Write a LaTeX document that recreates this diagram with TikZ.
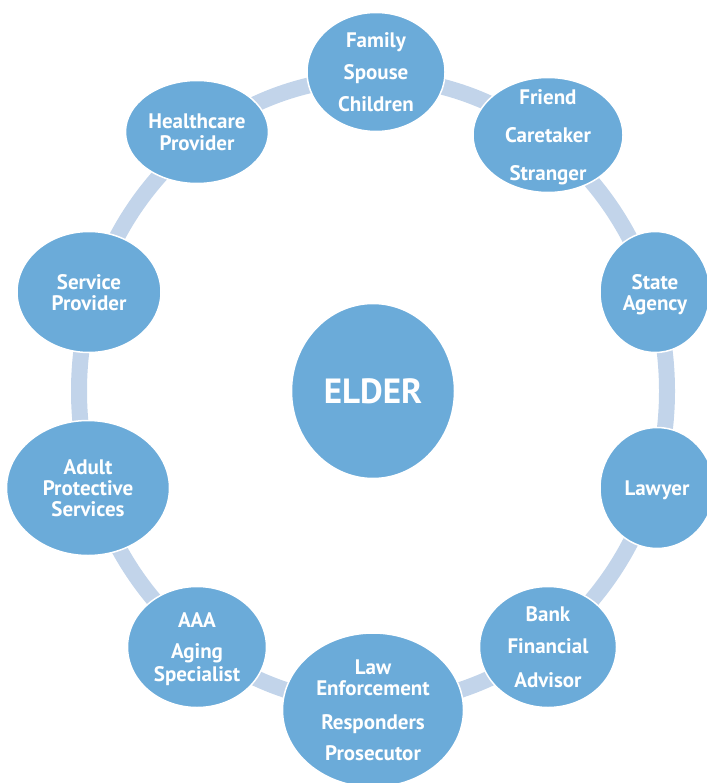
\documentclass[tikz,border=0pt]{standalone}
\usepackage{fontspec}
\setmainfont{PT Sans}
\usetikzlibrary{shapes.geometric}

\definecolor{partyblue}{HTML}{6BABD9}
\definecolor{ringblue}{HTML}{C2D4EA}

\tikzset{
    party/.style={ellipse, draw=white, line width=1.5pt, fill=partyblue, text=white, inner sep=0pt,
                  font=\bfseries\fontsize{21}{21}\selectfont},
    ring/.style={draw=ringblue, line width=16pt}
}
\newcommand{\names}[1]{\raisebox{-8.5pt}[0pt][0pt]{\begin{tabular}{@{}c@{}}#1\end{tabular}}}

\begin{document}
\begin{tikzpicture}[x=1pt, y=-1pt]
    \useasboundingbox (0, 0) rectangle (706, 783);

    \node[party, minimum width=163pt, minimum height=175pt, font=\bfseries\fontsize{35}{40}\selectfont] (elder) at (373, 391) {ELDER};
    \draw[ring] (elder.center) ellipse [x radius=294pt, y radius=313pt];

    \node[party, minimum width=138pt, minimum height=119pt] (family)  at (376, 72)  {\names{Family\\[10pt] Spouse\\[11pt] Children}};
    \node[party, minimum width=150pt, minimum height=115pt] (friend)  at (548, 135) {\names{Friend\\[16pt] Caretaker\\[17pt] Stranger}};
    \node[party, minimum width=110pt, minimum height=121pt] (state)   at (655, 292) {\names{State\\ Agency}};
    \node[party, minimum width=114pt, minimum height=121pt] (lawyer)  at (657, 488) {\names{Lawyer}};
    \node[party, minimum width=137pt, minimum height=121pt] (bank)    at (548, 647) {\names{Bank\\[10pt] Financial\\[13pt] Advisor}};
    \node[party, minimum width=181pt, minimum height=154pt] (law)     at (373, 710) {\names{Law\\ Enforcement\\[13pt] Responders\\[10pt] Prosecutor}};
    \node[party, minimum width=139pt, minimum height=121pt] (aaa)     at (197, 647) {\names{AAA\\[10pt] Aging\\[2pt] Specialist}};
    \node[party, minimum width=163pt, minimum height=135pt] (aps)     at (88, 488)  {\names{Adult\\ Protective\\ Services}};
    \node[party, minimum width=144pt, minimum height=121pt] (service) at (89, 292)  {\names{Service\\ Provider}};
    \node[party, minimum width=143pt, minimum height=103pt] (health)  at (197, 132) {\names{Healthcare\\ Provider}};
\end{tikzpicture}
\end{document}
